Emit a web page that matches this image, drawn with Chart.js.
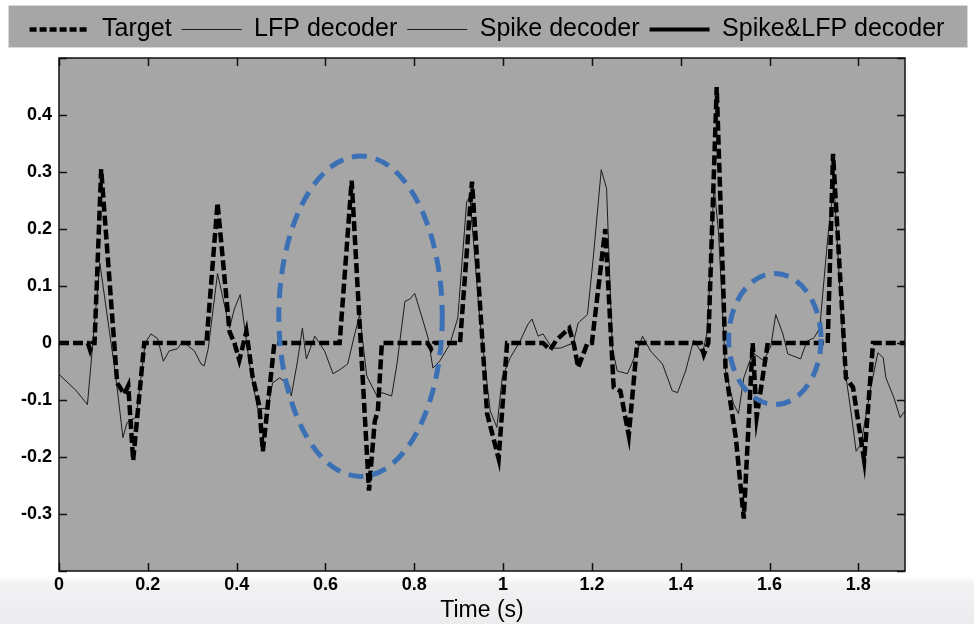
<!DOCTYPE html>
<html>
<head>
<meta charset="utf-8">
<script src="https://cdn.jsdelivr.net/npm/chart.js@4/dist/chart.umd.min.js"></script>
<style>
    html, body { margin: 0; padding: 0; }
    body {
        width: 974px; height: 624px; overflow: hidden;
        background: linear-gradient(#ffffff 0px, #ffffff 576px, #f1f1f3 585px, #ececef 624px);
    }
</style>
</head>
<body>
<canvas id="decoderChart" width="974" height="624"></canvas>
<script>
'use strict';

// values (time in s)
const targetTime = [0, 0.065, 0.07, 0.075, 0.08, 0.095, 0.131, 0.147, 0.156, 0.167, 0.192, 0.332, 0.357, 0.384, 0.395, 0.406,
    0.422, 0.436, 0.451, 0.459, 0.485, 0.632, 0.659, 0.698, 0.711, 0.718, 0.727, 0.83, 0.838, 0.845, 0.903, 0.93, 0.964,
    0.99, 1.009, 1.09, 1.106, 1.12, 1.149, 1.16, 1.169, 1.19, 1.2, 1.23, 1.249, 1.264, 1.283, 1.302, 1.445, 1.452, 1.462,
    1.481, 1.497, 1.501, 1.524, 1.542, 1.562, 1.571, 1.596, 1.731, 1.743, 1.772, 1.788, 1.813, 1.833, 1.905];
const targetValue = [0, 0, -0.012, 0, 0, 0.305, -0.07, -0.09, -0.075, -0.206, 0, 0, 0.246, 0.02, 0, -0.03,
    0.02, -0.06, -0.11, -0.19, 0, 0, 0.285, -0.259, -0.137, -0.12, 0, 0, -0.01, 0, 0, 0.283, -0.124,
    -0.203, 0, 0, -0.012, 0.005, 0.026, -0.005, -0.043, 0, 0, 0.2, -0.078, -0.084, -0.162, 0, 0, -0.02, 0,
    0.449, 0.068, -0.049, -0.166, -0.308, 0, -0.13, 0, 0, 0.332, -0.061, -0.078, -0.206, 0, 0];

const lfpTime = [0, 0.038, 0.064, 0.092, 0.128, 0.144, 0.153, 0.174, 0.194, 0.207, 0.222, 0.235, 0.248, 0.267, 0.278,
    0.305, 0.32, 0.327, 0.336, 0.357, 0.384, 0.395, 0.408, 0.429, 0.447, 0.47, 0.481, 0.497, 0.519, 0.523, 0.537,
    0.548, 0.557, 0.576, 0.598, 0.617, 0.632, 0.65, 0.666, 0.677, 0.693, 0.718, 0.727, 0.749, 0.761, 0.779, 0.79,
    0.801, 0.82, 0.831, 0.842, 0.858, 0.88, 0.898, 0.918, 0.925, 0.948, 0.971, 0.986, 0.998, 1.016, 1.038, 1.056,
    1.065, 1.079, 1.09, 1.11, 1.129, 1.158, 1.169, 1.19, 1.203, 1.221, 1.233, 1.246, 1.257, 1.28, 1.302, 1.314,
    1.332, 1.359, 1.381, 1.393, 1.411, 1.429, 1.449, 1.46, 1.475, 1.485, 1.501, 1.519, 1.53, 1.542, 1.562, 1.587,
    1.603, 1.614, 1.63, 1.641, 1.67, 1.684, 1.7, 1.713, 1.731, 1.745, 1.768, 1.783, 1.795, 1.806, 1.828, 1.844,
    1.856, 1.862, 1.88, 1.894, 1.905];
const lfpValue = [-0.055, -0.083, -0.108, 0.14, -0.06, -0.166, -0.14, -0.13, 0, 0.016, 0.008, -0.032, -0.014, -0.01, 0.003,
    -0.014, -0.037, -0.04, -0.01, 0.122, 0.026, 0.06, 0.085, -0.037, -0.115, -0.115, -0.07, -0.061, -0.075, -0.093, -0.032,
    0.026, -0.028, 0.012, -0.014, -0.054, -0.047, -0.037, 0.016, 0.05, -0.058, -0.096, -0.087, -0.093, -0.037, 0.073, 0.077,
    0.087, 0.038, 0.009, -0.044, -0.031, -0.002, 0.044, 0.248, 0.257, 0.038, -0.119, -0.148, -0.061, -0.026, 0.003, 0.033,
    0.042, 0.012, 0.016, -0.009, -0.009, 0, 0.035, 0.05, 0.149, 0.304, 0.271, -0.009, -0.049, -0.054, -0.014, 0.012,
    -0.014, -0.037, -0.084, -0.087, -0.049, 0.005, -0.019, 0.021, 0.275, 0.196, -0.049, -0.107, -0.124, -0.061, -0.017, -0.031,
    -0.005, 0.05, 0.016, -0.019, -0.028, 0.003, 0.009, 0.026, 0.184, 0.28, -0.037, -0.119, -0.19, -0.177, -0.078, -0.017,
    -0.026, -0.061, -0.096, -0.131, -0.119];

// these two decoders only show up in the legend of the original figure
const spikeTime = [];
const spikeValue = [];
const comboTime = [];
const comboValue = [];

const seriesNames = ['Target', 'LFP decoder', 'Spike decoder', 'Spike&LFP decoder'];

// highlighted regions (data units)
const ellipseCenterX = [0.679, 1.612];
const ellipseCenterY = [0.047, 0.007];
const ellipseRadiusX = [0.184, 0.104];
const ellipseRadiusY = [0.281, 0.115];

const X_MIN = 0, X_MAX = 1.905, Y_MIN = -0.4, Y_MAX = 0.5;
const FONT = "'Liberation Sans', Arial, Helvetica, sans-serif";

function toPoints(times, values) {
    return times.map((t, i) => ({ x: t, y: values[i] }));
}

// gray plot area + gray legend strip
const backgroundPlugin = {
    id: 'backgrounds',
    beforeDraw(chart) {
        const { ctx, chartArea: a } = chart;
        ctx.save();
        ctx.fillStyle = '#a6a6a6';
        ctx.strokeStyle = '#d8d8d8';
        ctx.lineWidth = 1;
        ctx.fillRect(8, 5, 960, 43);
        ctx.strokeRect(8.5, 5.5, 959, 42);
        ctx.fillRect(a.left, a.top, a.right - a.left, a.bottom - a.top);
        ctx.restore();
    }
};

// MATLAB-like box with inward ticks on all four sides
const boxPlugin = {
    id: 'matlabBox',
    afterDraw(chart) {
        const { ctx, chartArea: a, scales } = chart;
        const len = 8;
        ctx.save();
        ctx.strokeStyle = '#111';
        ctx.lineWidth = 1.5;
        ctx.beginPath();
        scales.x.ticks.forEach(t => {
            const px = Math.round(scales.x.getPixelForValue(t.value)) + 0.5;
            ctx.moveTo(px, a.bottom); ctx.lineTo(px, a.bottom - len);
            ctx.moveTo(px, a.top); ctx.lineTo(px, a.top + len);
        });
        scales.y.ticks.forEach(t => {
            const py = Math.round(scales.y.getPixelForValue(t.value)) + 0.5;
            ctx.moveTo(a.left, py); ctx.lineTo(a.left + len, py);
            ctx.moveTo(a.right, py); ctx.lineTo(a.right - len, py);
        });
        ctx.stroke();
        ctx.strokeRect(a.left, a.top, a.right - a.left, a.bottom - a.top);
        ctx.restore();
    }
};

const ellipsePlugin = {
    id: 'ellipses',
    afterDatasetsDraw(chart) {
        const { ctx, scales: { x, y } } = chart;
        ctx.save();
        ctx.strokeStyle = '#3c70b5';
        ctx.lineWidth = 5;
        ctx.setLineDash([15, 9]);
        ellipseCenterX.forEach((cx, i) => {
            const px = x.getPixelForValue(cx);
            const py = y.getPixelForValue(ellipseCenterY[i]);
            const rx = Math.abs(x.getPixelForValue(cx + ellipseRadiusX[i]) - px);
            const ry = Math.abs(y.getPixelForValue(ellipseCenterY[i] + ellipseRadiusY[i]) - py);
            ctx.beginPath();
            ctx.ellipse(px, py, rx, ry, 0, 0, Math.PI * 2);
            ctx.stroke();
        });
        ctx.restore();
    }
};

function formatTick(v) {
    return String(Number(v.toFixed(1)));
}

// legend samples: take dash / width straight from each dataset
function legendLabels(chart) {
    const items = Chart.defaults.plugins.legend.labels.generateLabels(chart);
    return items.map(item => {
        const ds = chart.data.datasets[item.datasetIndex];
        item.lineDash = ds.legendDash || [];
        item.lineWidth = ds.borderWidth;
        item.strokeStyle = ds.borderColor;
        item.fillStyle = ds.borderColor;
        return item;
    });
}

const tickFont = { family: FONT, size: 18, weight: 'bold', lineHeight: 1 };

new Chart(document.getElementById('decoderChart'), {
    type: 'line',
    data: {
        datasets: [
            {
                label: seriesNames[0],
                data: toPoints(targetTime, targetValue),
                borderColor: '#000',
                backgroundColor: '#000',
                borderWidth: 4.5,
                borderDash: [10, 4],
                legendDash: [7, 3],
                pointRadius: 0,
                tension: 0
            },
            {
                label: seriesNames[1],
                data: toPoints(lfpTime, lfpValue),
                borderColor: '#1c1c1c',
                backgroundColor: '#1c1c1c',
                borderWidth: 1,
                pointRadius: 0,
                tension: 0
            },
            {
                label: seriesNames[2],
                data: toPoints(spikeTime, spikeValue),
                borderColor: '#1c1c1c',
                backgroundColor: '#1c1c1c',
                borderWidth: 1,
                pointRadius: 0,
                tension: 0
            },
            {
                label: seriesNames[3],
                data: toPoints(comboTime, comboValue),
                borderColor: '#000',
                backgroundColor: '#000',
                borderWidth: 4,
                pointRadius: 0,
                tension: 0
            }
        ]
    },
    options: {
        responsive: false,
        animation: false,
        devicePixelRatio: 1,
        layout: { padding: { left: 0, right: 0, top: 7, bottom: 0 } },
        plugins: {
            legend: {
                position: 'top',
                labels: {
                    usePointStyle: true,
                    pointStyle: 'line',
                    pointStyleWidth: 60,
                    padding: 10,
                    color: '#000',
                    font: { family: FONT, size: 25 },
                    generateLabels: legendLabels
                }
            },
            tooltip: { enabled: false }
        },
        scales: {
            x: {
                type: 'linear',
                min: X_MIN,
                max: X_MAX,
                grid: { display: false, drawTicks: false },
                border: { display: false },
                ticks: {
                    stepSize: 0.2,
                    includeBounds: false,
                    autoSkip: false,
                    padding: 5,
                    maxRotation: 0,
                    color: '#000',
                    font: tickFont,
                    callback: v => formatTick(v)
                },
                title: {
                    display: true,
                    text: 'Time (s)',
                    color: '#000',
                    font: { family: FONT, size: 23, lineHeight: 1 },
                    padding: { top: 0, bottom: 2 }
                }
            },
            // empty top axis that only reserves the gap under the legend
            xTop: {
                type: 'linear',
                position: 'top',
                min: X_MIN,
                max: X_MAX,
                grid: { display: false, drawTicks: false },
                border: { display: false },
                ticks: { display: false },
                afterFit(scale) { scale.height = 6; }
            },
            y: {
                min: Y_MIN,
                max: Y_MAX,
                grid: { display: false, drawTicks: false },
                border: { display: false },
                afterFit(scale) { scale.width = 59; },
                ticks: {
                    stepSize: 0.1,
                    padding: 7,
                    color: '#000',
                    font: tickFont,
                    callback: v => (Math.abs(v - Y_MIN) < 1e-9 || Math.abs(v - Y_MAX) < 1e-9) ? '' : formatTick(v)
                }
            },
            // empty right-hand axis that only reserves the white margin
            yRight: {
                position: 'right',
                min: Y_MIN,
                max: Y_MAX,
                grid: { display: false, drawTicks: false },
                border: { display: false },
                ticks: { display: false },
                afterFit(scale) { scale.width = 69; }
            }
        }
    },
    plugins: [backgroundPlugin, ellipsePlugin, boxPlugin]
});
</script>
</body>
</html>
